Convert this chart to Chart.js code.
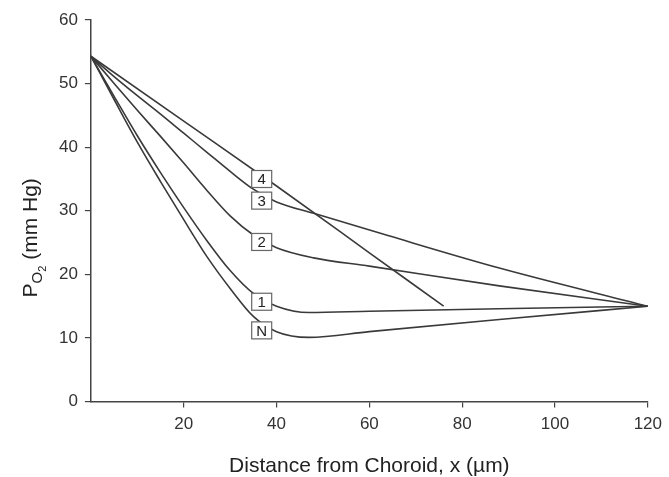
<!DOCTYPE html>
<html>
<head>
<meta charset="utf-8">
<script src="https://cdn.jsdelivr.net/npm/chart.js@4"></script>
<style>
  html, body { margin: 0; padding: 0; background: #fff; }
  #wrap { width: 669px; height: 477px; }
</style>
</head>
<body>
<div id="wrap"><canvas id="plot1"></canvas></div>
<script>
// curvas (x en µm, y en mm Hg)
let xN = [0, 5, 10, 15, 20, 25, 30, 35, 40, 47, 60, 88, 120];
let yN = [54.3, 47.5, 40.8, 34.6, 28.6, 22.8, 17.8, 13.4, 11.0, 10.1, 11.0, 12.9, 15];

let x1 = [0, 5, 10, 15, 20, 25, 30, 35, 40, 47, 60, 88, 120];
let y1 = [54.3, 48.0, 41.8, 36.0, 30.5, 25.3, 20.6, 17.0, 15.0, 14.0, 14.2, 14.6, 15];

let x2 = [0, 5, 10, 15, 20, 25, 30, 35, 40, 48, 60, 88, 120];
let y2 = [54.3, 50.0, 45.8, 41.7, 37.5, 33.2, 29.2, 26.2, 24.2, 22.6, 21.3, 18.2, 15];

let x3 = [0, 5, 10, 15, 20, 25, 30, 35, 40, 48, 64, 88, 120];
let y3 = [54.3, 51.1, 48.1, 45.2, 42.2, 39.2, 36.2, 33.4, 31.4, 29.6, 26.1, 21.0, 15];

let x4 = [0, 20, 40, 60, 76];
let y4 = [54.3, 44.1, 33.9, 23.4, 15];

// etiquetas en cajita
let etiquetas = ["4", "3", "2", "1", "N"];
let etiquetaX = [36.8, 36.8, 36.8, 36.8, 36.8];
let etiquetaY = [35.0, 31.6, 25.1, 15.7, 11.2];

let xTicks = [20, 40, 60, 80, 100, 120];

let fuente = "'Liberation Sans', Arial, sans-serif";

let armarPuntos = (xs, ys) => xs.map((x, i) => ({x: x, y: ys[i]}));

let serie = (xs, ys) => ({
    data: armarPuntos(xs, ys),
    showLine: true,
    borderColor: '#3a3a3a',
    borderWidth: 1.6,
    pointRadius: 0,
    cubicInterpolationMode: 'monotone',
    fill: false
});

let cajitas = {
    id: 'cajitas',
    afterDatasetsDraw: (chart) => {
        let ctx = chart.ctx;
        let sx = chart.scales.x;
        let sy = chart.scales.y;
        ctx.save();
        ctx.font = `15px ${fuente}`;
        ctx.textAlign = 'center';
        ctx.textBaseline = 'middle';
        for (let i = 0; i < etiquetas.length; i++) {
            let px = sx.getPixelForValue(etiquetaX[i]);
            let py = sy.getPixelForValue(etiquetaY[i]);
            ctx.fillStyle = '#fff';
            ctx.fillRect(px - 10, py - 8.5, 20, 17);
            ctx.strokeStyle = '#666';
            ctx.lineWidth = 1.2;
            ctx.strokeRect(px - 10, py - 8.5, 20, 17);
            ctx.fillStyle = '#222';
            ctx.fillText(etiquetas[i], px, py + 1);
        }
        ctx.restore();
    }
};

// titulo del eje y con subindice (P sub O2)
let tituloY = {
    id: 'tituloY',
    afterDraw: (chart) => {
        let ctx = chart.ctx;
        let area = chart.chartArea;
        let partes = [
            {t: 'P', size: 21, dy: 0},
            {t: 'O', size: 15, dy: 5},
            {t: '2', size: 11, dy: 9},
            {t: ' (mm Hg)', size: 21, dy: 0}
        ];
        ctx.save();
        let total = 0;
        partes.forEach(p => {
            ctx.font = `${p.size}px ${fuente}`;
            p.w = ctx.measureText(p.t).width;
            total += p.w;
        });
        ctx.translate(area.left - 61, (area.top + area.bottom) / 2 + 27);
        ctx.rotate(-Math.PI / 2);
        ctx.fillStyle = '#222';
        ctx.textBaseline = 'alphabetic';
        ctx.textAlign = 'left';
        let pos = -total / 2;
        partes.forEach(p => {
            ctx.font = `${p.size}px ${fuente}`;
            ctx.fillText(p.t, pos, 7 + p.dy);
            pos += p.w;
        });
        ctx.restore();
    }
};

Chart.defaults.font.family = fuente;
Chart.defaults.color = '#333';

let plotRef = document.getElementById("plot1");
let config1 = {
    type: 'scatter',
    data: {
        datasets: [
            serie(xN, yN),
            serie(x1, y1),
            serie(x2, y2),
            serie(x3, y3),
            serie(x4, y4)
        ]
    },
    options: {
        responsive: true,
        maintainAspectRatio: false,
        animation: false,
        layout: {padding: {left: 52, right: 6, top: 20, bottom: 0}},
        plugins: {legend: {display: false}, tooltip: {enabled: false}},
        scales: {
            x: {
                type: 'linear',
                min: 0,
                max: 120,
                afterBuildTicks: (axis) => { axis.ticks = [0, ...xTicks].map(v => ({value: v})); },
                ticks: {
                    font: {size: 17},
                    color: '#333',
                    padding: 7,
                    callback: (v) => v === 0 ? '' : v
                },
                grid: {
                    display: true,
                    drawOnChartArea: false,
                    tickLength: 6,
                    lineWidth: 1.2,
                    color: (c) => c.tick && c.tick.value === 0 ? 'rgba(0,0,0,0)' : '#444'
                },
                border: {color: '#444', width: 1.5},
                title: {
                    display: true,
                    text: 'Distance from Choroid, x (µm)',
                    font: {size: 21, lineHeight: 1},
                    color: '#222',
                    padding: {top: 14, bottom: 0}
                }
            },
            y: {
                min: 0,
                max: 60,
                ticks: {stepSize: 10, font: {size: 17}, color: '#333', padding: 7},
                grid: {
                    display: true,
                    drawOnChartArea: false,
                    tickLength: 6,
                    lineWidth: 1.2,
                    color: '#444'
                },
                border: {color: '#444', width: 1.5}
            }
        }
    },
    plugins: [cajitas, tituloY]
};

let chart1 = new Chart(plotRef, config1);
</script>
</body>
</html>
